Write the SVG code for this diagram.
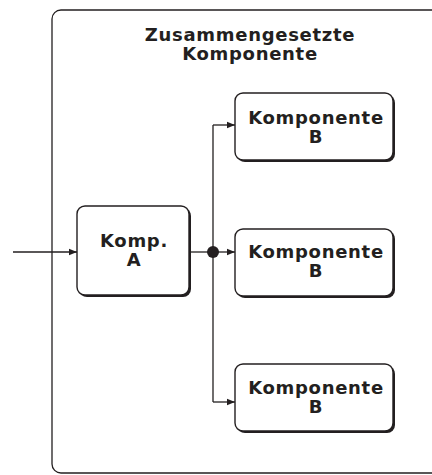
<svg xmlns="http://www.w3.org/2000/svg" width="432" height="475" viewBox="0 0 432 475">
  <style>
    .frame { fill: #ffffff; stroke: #231f20; stroke-width: 1.3; }
    .box { fill: #ffffff; stroke: #231f20; stroke-width: 1.4; }
    .shadow { fill: #231f20; }
    .lbl { font-family: "DejaVu Sans", Verdana, sans-serif; font-weight: bold; font-size: 18px; letter-spacing: 0.7px; fill: #231f20; text-anchor: middle; }
    .wire { fill: none; stroke: #231f20; stroke-width: 1.3; }
  </style>
  <defs>
    <marker id="arrow" viewBox="0 0 8 8" refX="8" refY="4" markerWidth="8" markerHeight="8" markerUnits="userSpaceOnUse" orient="auto">
      <path d="M0,0.8 L8,4 L0,7.2 Z" fill="#231f20"/>
    </marker>
  </defs>
  <rect width="432" height="475" fill="#ffffff"/>

  <!-- composite container, open to the right -->
  <g id="composite">
    <rect class="frame" x="52" y="10" width="420" height="463" rx="9" ry="9"/>
    <text class="lbl" x="250" y="41">Zusammengesetzte</text>
    <text class="lbl" x="250" y="60">Komponente</text>
  </g>

  <g id="compA">
    <rect class="shadow" x="79" y="208" width="112" height="89" rx="8" ry="8"/>
    <rect class="box" x="77" y="206" width="112" height="89" rx="8" ry="8"/>
    <text class="lbl" x="134" y="247">Komp.</text>
    <text class="lbl" x="134" y="266">A</text>
  </g>

  <g id="compB1">
    <rect class="shadow" x="237" y="95" width="158" height="67" rx="8" ry="8"/>
    <rect class="box" x="235" y="93" width="158" height="67" rx="8" ry="8"/>
    <text class="lbl" x="316" y="124">Komponente</text>
    <text class="lbl" x="316" y="143">B</text>
  </g>

  <g id="compB2">
    <rect class="shadow" x="237" y="231" width="158" height="67" rx="8" ry="8"/>
    <rect class="box" x="235" y="229" width="158" height="67" rx="8" ry="8"/>
    <text class="lbl" x="316" y="258">Komponente</text>
    <text class="lbl" x="316" y="277">B</text>
  </g>

  <g id="compB3">
    <rect class="shadow" x="237" y="366" width="158" height="67" rx="8" ry="8"/>
    <rect class="box" x="235" y="364" width="158" height="67" rx="8" ry="8"/>
    <text class="lbl" x="316" y="394">Komponente</text>
    <text class="lbl" x="316" y="413">B</text>
  </g>

  <g id="connectors">
    <line class="wire" x1="13" y1="252" x2="77" y2="252" marker-end="url(#arrow)"/>
    <line class="wire" x1="189" y1="252" x2="213" y2="252"/>
    <line class="wire" x1="213" y1="125" x2="213" y2="402"/>
    <line class="wire" x1="213" y1="125" x2="235" y2="125" marker-end="url(#arrow)"/>
    <line class="wire" x1="213" y1="252" x2="235" y2="252" marker-end="url(#arrow)"/>
    <line class="wire" x1="213" y1="402" x2="235" y2="402" marker-end="url(#arrow)"/>
    <circle cx="213" cy="252" r="6" fill="#231f20"/>
  </g>
</svg>
